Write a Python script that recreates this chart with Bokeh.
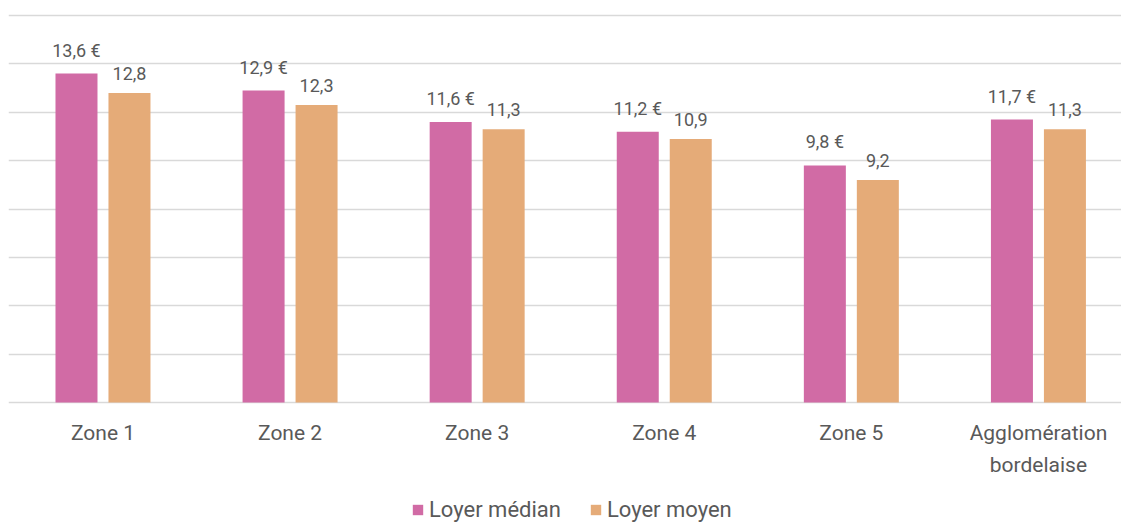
from bokeh.plotting import figure
from bokeh.models import ColumnDataSource, FixedTicker, Legend, LegendItem, Range1d
from bokeh.core.properties import value
from bokeh.embed import file_html
from bokeh.resources import INLINE
import numpy as np

categories = ["Zone 1", "Zone 2", "Zone 3", "Zone 4", "Zone 5", "Agglomération\nbordelaise"]
loyer_median = [13.6, 12.9, 11.6, 11.2, 9.8, 11.7]
loyer_moyen = [12.8, 12.3, 11.3, 10.9, 9.2, 11.3]
median_labels = ["13,6 €", "12,9 €", "11,6 €", "11,2 €", "9,8 €", "11,7 €"]
moyen_labels = ["12,8", "12,3", "11,3", "10,9", "9,2", "11,3"]
series_names = ["Loyer médian", "Loyer moyen"]
grid_values = [0, 2, 4, 6, 8, 10, 12, 14, 16]

PINK = "#D16BA5"
ORANGE = "#E5AB78"
TEXT = "#595959"
GRID = "#D9D9D9"
FONT = "Roboto"

idx = np.arange(len(categories))
off = 0.1416
bw = 0.2245

src_med = ColumnDataSource(dict(x=idx - off, top=loyer_median, label=median_labels))
src_moy = ColumnDataSource(dict(x=idx + off, top=loyer_moyen, label=moyen_labels))
src_cat = ColumnDataSource(dict(x=idx, y=np.zeros(len(categories)), label=categories))

p = figure(frame_width=1113, frame_height=514, output_backend="svg", toolbar_location=None,
           x_range=Range1d(-0.505, 5.444), y_range=Range1d(16.29 - 514 / 24.19, 16.29),
           min_border_left=8, min_border_right=0, min_border_top=8, min_border_bottom=0)
p.outline_line_color = None
p.background_fill_color = "white"
p.border_fill_color = "white"

# axes hidden; gridlines (incl. baseline at 0)
p.xaxis.visible = False
p.yaxis.visible = False
p.yaxis.ticker = FixedTicker(ticks=grid_values)
p.ygrid.ticker = FixedTicker(ticks=grid_values)
p.ygrid.grid_line_color = GRID
p.ygrid.grid_line_width = 1.5
p.xgrid.visible = False

r1 = p.vbar(x="x", top="top", bottom=0, width=bw, source=src_med, fill_color=PINK, line_color=None)
r2 = p.vbar(x="x", top="top", bottom=0, width=bw, source=src_moy, fill_color=ORANGE, line_color=None)

for s in (src_med, src_moy):
    p.text(x="x", y="top", text="label", source=s, text_align="center", text_baseline="bottom",
           y_offset=-13, text_font=value(FONT), text_font_size="18px", text_color=TEXT)

# category labels under the baseline
p.text(x="x", y="y", text="label", source=src_cat, text_align="center", text_baseline="top",
       y_offset=18, text_font=value(FONT), text_font_size="21px", text_color=TEXT,
       text_line_height=1.35)

legend = Legend(items=[LegendItem(label=series_names[0], renderers=[r1]),
                       LegendItem(label=series_names[1], renderers=[r2])],
                orientation="horizontal", location=(403, 0))
legend.label_text_font = FONT
legend.label_text_font_size = "22px"
legend.label_text_color = TEXT
legend.glyph_width = 13
legend.glyph_height = 13
legend.label_standoff = 5
legend.spacing = 28
legend.border_line_color = None
legend.background_fill_alpha = 0
legend.margin = 0
legend.padding = 0
p.add_layout(legend, "center")

open("out.html", "w").write(file_html(p, INLINE))
